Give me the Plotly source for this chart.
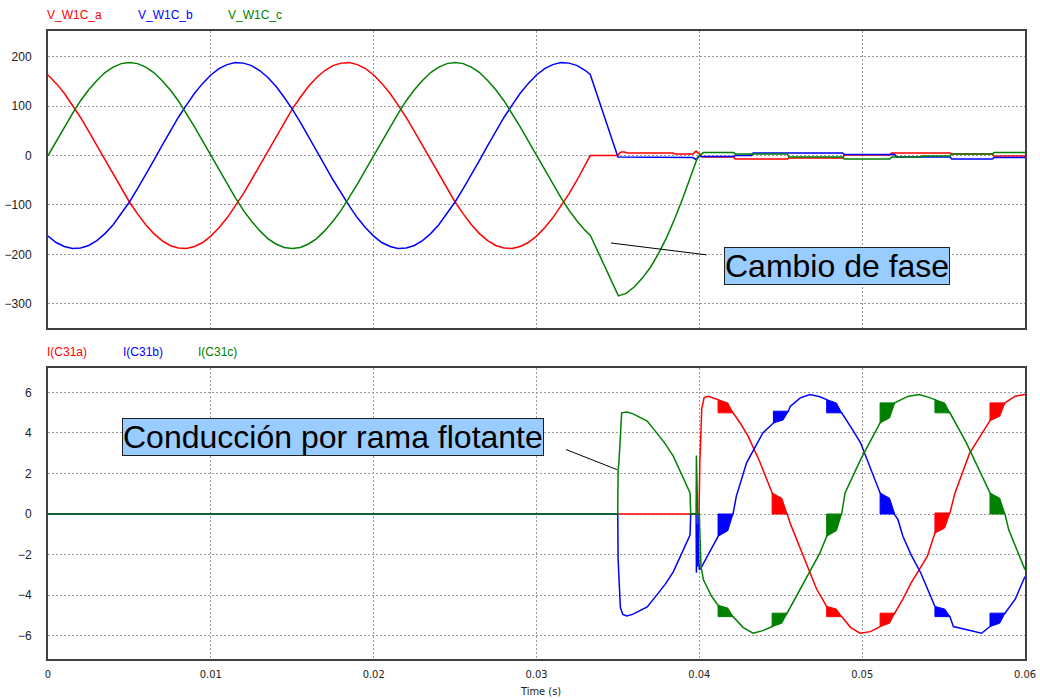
import plotly.graph_objects as go

RED = "#ff0000"
BLUE = "#0000ff"
GREEN = "#008000"

# ---------------- upper panel: phase voltages (V) ----------------
# steady sinusoidal part, sampled every 0.5 ms from 0 to 33 ms
T_SINE_MS = [0, 0.5, 1, 1.5, 2, 2.5, 3, 3.5, 4, 4.5, 5, 5.5, 6, 6.5, 7, 7.5, 8, 8.5, 9, 9.5,
             10, 10.5, 11, 11.5, 12, 12.5, 13, 13.5, 14, 14.5, 15, 15.5, 16, 16.5, 17, 17.5,
             18, 18.5, 19, 19.5, 20, 20.5, 21, 21.5, 22, 22.5, 23, 23.5, 24, 24.5, 25, 25.5,
             26, 26.5, 27, 27.5, 28, 28.5, 29, 29.5, 30, 30.5, 31, 31.5, 32, 32.5, 33]

V_A_SINE = [163, 146, 126, 102, 77, 49, 20, -10, -39, -67,
            -94, -118, -140, -158, -172, -182, -187, -188, -184, -176,
            -163, -146, -126, -102, -77, -49, -20, 10, 39, 67,
            94, 118, 140, 158, 172, 182, 187, 188, 184, 176,
            163, 146, 126, 102, 77, 49, 20, -10, -39, -67,
            -94, -118, -140, -158, -172, -182, -187, -188, -184, -176,
            -163, -146, -126, -102, -77, -49, -20]
V_B_SINE = [-163, -176, -184, -188, -187, -182, -172, -158, -140, -118,
            -94, -67, -39, -10, 20, 49, 77, 102, 126, 146,
            163, 176, 184, 188, 187, 182, 172, 158, 140, 118,
            94, 67, 39, 10, -20, -49, -77, -102, -126, -146,
            -163, -176, -184, -188, -187, -182, -172, -158, -140, -118,
            -94, -67, -39, -10, 20, 49, 77, 102, 126, 146,
            163, 176, 184, 188, 187, 182, 172]
V_C_SINE = [0, 29, 58, 85, 111, 133, 152, 168, 179, 186,
            188, 186, 179, 168, 152, 133, 111, 85, 58, 29,
            0, -29, -58, -85, -111, -133, -152, -168, -179, -186,
            -188, -186, -179, -168, -152, -133, -111, -85, -58, -29,
            0, 29, 58, 85, 111, 133, 152, 168, 179, 186,
            188, 186, 179, 168, 152, 133, 111, 85, 58, 29,
            0, -29, -58, -85, -111, -133, -152]

# behaviour after the phase loss (time in s, value in V)
T_A_TAIL = [0.0333, 0.0350, 0.03505, 0.0352, 0.0354, 0.0356, 0.0384, 0.0385, 0.0396, 0.0398,
            0.0400, 0.0402, 0.0421, 0.0422, 0.0454, 0.0455, 0.0488, 0.0489, 0.0517, 0.0518,
            0.0554, 0.0555, 0.0580, 0.0581, 0.0600]
V_A_TAIL = [0, 0, 3, 7, 7, 5, 5, 3, 3, 9,
            2, -3, -3, -7, -7, -5, -5, 1, 1, 5,
            5, 3, 3, -1, -1]
T_B_TAIL = [0.0333, 0.0350, 0.0396, 0.0398, 0.0400, 0.0421, 0.0422, 0.0432, 0.0433, 0.0488,
            0.0489, 0.0520, 0.0521, 0.0554, 0.0555, 0.0580, 0.0581, 0.0600]
V_B_TAIL = [164, -3, -4, -8, -2, -2, 0, 0, 5, 5,
            2, 2, -3, -3, -7, -7, -4, -4]
T_C_TAIL = [0.0333, 0.03503, 0.0355, 0.0360, 0.0365, 0.0370, 0.0375, 0.0380, 0.0385, 0.0390,
            0.0395, 0.0399, 0.04025, 0.0421, 0.0422, 0.0454, 0.0455, 0.0488, 0.0489, 0.0517,
            0.0518, 0.0536, 0.0537, 0.0554, 0.0555, 0.0580, 0.0581, 0.0600]
V_C_TAIL = [-161, -284, -279, -266, -248, -226, -198, -165, -127, -85,
            -40, -3, 6, 6, 3, 3, -3, -3, -7, -7,
            -3, -3, -1, -1, 3, 3, 6, 6]

# ---------------- lower panel: capacitor currents (A) ----------------
T_IA = [0, 0.03998, 0.04003, 0.04015, 0.04030, 0.04055, 0.04085, 0.04115, 0.04207, 0.0425,
        0.0430, 0.0437, 0.04447, 0.04539, 0.0456, 0.0460, 0.0466, 0.0472, 0.04782, 0.04874,
        0.0493, 0.04987, 0.0505, 0.0511, 0.0520, 0.0525, 0.0530, 0.0540, 0.05447, 0.05539,
        0.0557, 0.0566, 0.05785, 0.05877, 0.0594, 0.0600]
I_A = [0, 0, 2.5, 5.2, 5.75, 5.81, 5.72, 5.64, 4.99, 4.5,
       3.83, 2.6, 1.04, 0, -0.5, -1.3, -2.59, -3.7, -4.56, -5.06,
       -5.6, -5.88, -5.8, -5.55, -4.89, -4.2, -3.41, -2.09, -0.94, 0.05,
       1.04, 3.0, 4.6, 5.48, 5.81, 5.89]

T_IB = [0, 0.03499, 0.03501, 0.03505, 0.03515, 0.0353, 0.03554, 0.0359, 0.03636, 0.0368,
        0.03738, 0.0379, 0.0384, 0.0388, 0.03922, 0.03943, 0.03947, 0.03980, 0.03982, 0.03985,
        0.03988, 0.03992, 0.03996, 0.0400, 0.0401, 0.0406, 0.04115, 0.04207, 0.04227, 0.0429,
        0.0439, 0.04455, 0.04547, 0.04558, 0.0462, 0.0468, 0.0474, 0.04782, 0.04874, 0.0493,
        0.0499, 0.0511, 0.0520, 0.0522, 0.0525, 0.0530, 0.0536, 0.05447, 0.05539, 0.0556,
        0.05733, 0.05785, 0.05877, 0.0594, 0.0600]
I_B = [0, 0, -2.2, -3.0, -4.6, -4.95, -5.03, -4.95, -4.74, -4.58,
       -4.0, -3.47, -2.85, -2.15, -1.36, -1.04, 0, 0, -2.9, -0.5,
       -2.6, 0, -2.2, -2.75, -2.67, -1.9, -1.1, 0, 0.87, 2.52,
       4.0, 4.49, 5.07, 5.31, 5.73, 5.89, 5.78, 5.64, 4.99, 4.3,
       3.51, 1.04, 0, -0.28, -1.1, -2.0, -2.91, -4.56, -5.06, -5.55,
       -5.88, -5.55, -4.89, -4.2, -3.08]

T_IC = [0, 0.03499, 0.03501, 0.03506, 0.03523, 0.03554, 0.0359, 0.03636, 0.0368, 0.03738,
        0.0379, 0.0384, 0.0388, 0.03922, 0.03943, 0.03947, 0.03980, 0.03982, 0.03985, 0.03990,
        0.0400, 0.04005, 0.0401, 0.04025, 0.04076, 0.04115, 0.04207, 0.0427, 0.0433, 0.0439,
        0.04447, 0.04539, 0.0463, 0.0474, 0.04782, 0.04874, 0.04895, 0.0499, 0.0511, 0.0520,
        0.0528, 0.0535, 0.0541, 0.05447, 0.05539, 0.0564, 0.05785, 0.05877, 0.0590, 0.0600]
I_C = [0, 0, 2.19, 2.5, 4.99, 5.03, 4.95, 4.74, 4.58, 4.0,
       3.47, 2.85, 2.15, 1.36, 1.04, 0, 0, 2.88, 0.5, 0,
       0, -1.5, -2.59, -3.24, -4.07, -4.5, -5.06, -5.6, -5.88, -5.75,
       -5.55, -4.89, -3.58, -1.93, -1.1, 0, 1.04, 2.68, 4.49, 5.48,
       5.8, 5.89, 5.75, 5.64, 4.99, 3.51, 1.04, 0, -0.78, -2.75]

# switching bursts at each commutation: (start s, end s, level before, level after)
BURSTS_A = [(0.04115, 0.04207, 5.64, 4.99), (0.04447, 0.04539, 1.04, 0.0),
            (0.04782, 0.04874, -4.56, -5.06), (0.0511, 0.0520, -5.55, -4.89),
            (0.05447, 0.05539, -0.94, 0.05), (0.05785, 0.05877, 4.6, 5.48)]
BURSTS_B = [(0.04115, 0.04207, -1.1, 0.0), (0.04455, 0.04547, 4.49, 5.07),
            (0.04782, 0.04874, 5.64, 4.99), (0.0511, 0.0520, 1.04, 0.0),
            (0.05447, 0.05539, -4.56, -5.06), (0.05785, 0.05877, -5.55, -4.89)]
BURSTS_C = [(0.04115, 0.04207, -4.5, -5.06), (0.04447, 0.04539, -5.55, -4.89),
            (0.04782, 0.04874, -1.1, 0.0), (0.0511, 0.0520, 4.49, 5.48),
            (0.05447, 0.05539, 5.64, 4.99), (0.05785, 0.05877, 1.04, 0.0)]

X_TICKS = [0, 0.01, 0.02, 0.03, 0.04, 0.05, 0.06]
X_TICK_TEXT = ["0", "0.01", "0.02", "0.03", "0.04", "0.05", "0.06"]
Y1_TICKS = [-300, -200, -100, 0, 100, 200]
Y2_TICKS = [-6, -4, -2, 0, 2, 4, 6]


def full_series(sine_vals, tail_t, tail_v):
    t = [ms / 1000.0 for ms in T_SINE_MS] + tail_t
    return t, sine_vals + tail_v


def burst_polygons(bursts):
    # each burst fills the band between the old level and the new one,
    # its upper edge staying near the old level before collapsing
    xs, ys = [], []
    for t0, t1, v0, v1 in bursts:
        tm = t0 + 0.65 * (t1 - t0)
        vm = v0 + 0.25 * (v1 - v0)
        xs += [t0, tm, t1, t0, t0, None]
        ys += [v0, vm, v1, v1, v0, None]
    return xs, ys


fig = go.Figure()

for sine_vals, tt, tv, col in [(V_A_SINE, T_A_TAIL, V_A_TAIL, RED),
                               (V_B_SINE, T_B_TAIL, V_B_TAIL, BLUE),
                               (V_C_SINE, T_C_TAIL, V_C_TAIL, GREEN)]:
    t, v = full_series(sine_vals, tt, tv)
    fig.add_trace(go.Scatter(x=t, y=v, mode="lines", line=dict(color=col, width=1.5),
                             xaxis="x", yaxis="y", showlegend=False, hoverinfo="skip"))

for tt, iv, bursts, col in [(T_IA, I_A, BURSTS_A, RED),
                            (T_IB, I_B, BURSTS_B, BLUE),
                            (T_IC, I_C, BURSTS_C, GREEN)]:
    bx, by = burst_polygons(bursts)
    fig.add_trace(go.Scatter(x=bx, y=by, mode="lines", fill="toself", fillcolor=col,
                             line=dict(color=col, width=1), xaxis="x2", yaxis="y2",
                             showlegend=False, hoverinfo="skip"))
    fig.add_trace(go.Scatter(x=tt, y=iv, mode="lines", line=dict(color=col, width=1.5),
                             xaxis="x2", yaxis="y2", showlegend=False, hoverinfo="skip"))

W = 1040
H = 699
X_DOM = [48 / W, 1025 / W]

axis_common = dict(
    showline=True, mirror=True, linecolor="#404040", linewidth=2,
    showgrid=True, gridcolor="#9a9a9a", gridwidth=1, griddash="2px,2px",
    zeroline=False, ticks="", automargin=False,
)
tick_font = dict(family="Liberation Sans, Arial, sans-serif", size=12, color="#222222")
narrow_font = dict(family="Liberation Sans Narrow, DejaVu Sans Condensed, Arial Narrow, sans-serif",
                   size=11, color="#222222")

fig.update_layout(
    width=W, height=H,
    margin=dict(l=0, r=0, t=0, b=0),
    paper_bgcolor="white", plot_bgcolor="white",
    xaxis=dict(domain=X_DOM, range=[0, 0.06], tickvals=X_TICKS, showticklabels=False,
               anchor="y", **axis_common),
    yaxis=dict(domain=[1 - 328 / H, 1 - 31 / H], range=[-349, 252], tickvals=Y1_TICKS,
               tickfont=tick_font, ticklabelstandoff=12, anchor="x", **axis_common),
    xaxis2=dict(domain=X_DOM, range=[0, 0.06], tickvals=X_TICKS, ticktext=X_TICK_TEXT,
                tickfont=narrow_font, ticklabelstandoff=4, anchor="y2", **axis_common),
    yaxis2=dict(domain=[1 - 659 / H, 1 - 368 / H], range=[-7.15, 7.2], tickvals=Y2_TICKS,
                tickfont=tick_font, ticklabelstandoff=12, anchor="x2", **axis_common),
)

# series labels above each panel
labels = [("V_W1C_a", 45, 15, RED), ("V_W1C_b", 136, 15, BLUE), ("V_W1C_c", 226, 15, GREEN),
          ("I(C31a)", 45, 352, RED), ("I(C31b)", 121, 352, BLUE), ("I(C31c)", 196, 352, GREEN)]
for txt, px, py, col in labels:
    fig.add_annotation(text=txt, xref="paper", yref="paper", x=px / W, y=1 - py / H,
                       xanchor="left", yanchor="middle", showarrow=False,
                       font=dict(family="Liberation Sans, Arial, sans-serif", size=12, color=col))

fig.add_annotation(text="Time (s)", xref="paper", yref="paper", x=540 / W, y=1 - 691 / H,
                   xanchor="center", yanchor="middle", showarrow=False, font=narrow_font)

# callouts
box_font = dict(family="Liberation Sans, Arial, sans-serif", size=32, color="black")
fig.add_annotation(text="Cambio de fase", xref="paper", yref="paper",
                   x=836.5 / W, y=1 - 266 / H, xanchor="center", yanchor="middle",
                   showarrow=False, bgcolor="#99ccff", bordercolor="#202020", borderwidth=1,
                   borderpad=0, font=box_font)
fig.add_annotation(text="Conducción por rama flotante", xref="paper", yref="paper",
                   x=332.5 / W, y=1 - 436.5 / H, xanchor="center", yanchor="middle",
                   showarrow=False, bgcolor="#99ccff", bordercolor="#202020", borderwidth=1,
                   borderpad=0, font=box_font)

fig.add_shape(type="line", xref="x", yref="y", x0=0.03458, y0=-177, x1=0.04045, y1=-201,
              line=dict(color="black", width=1))
fig.add_shape(type="line", xref="x2", yref="y2", x0=0.03181, y0=3.18, x1=0.03494, y1=2.19,
              line=dict(color="black", width=1))

fig.write_html("out.html")
